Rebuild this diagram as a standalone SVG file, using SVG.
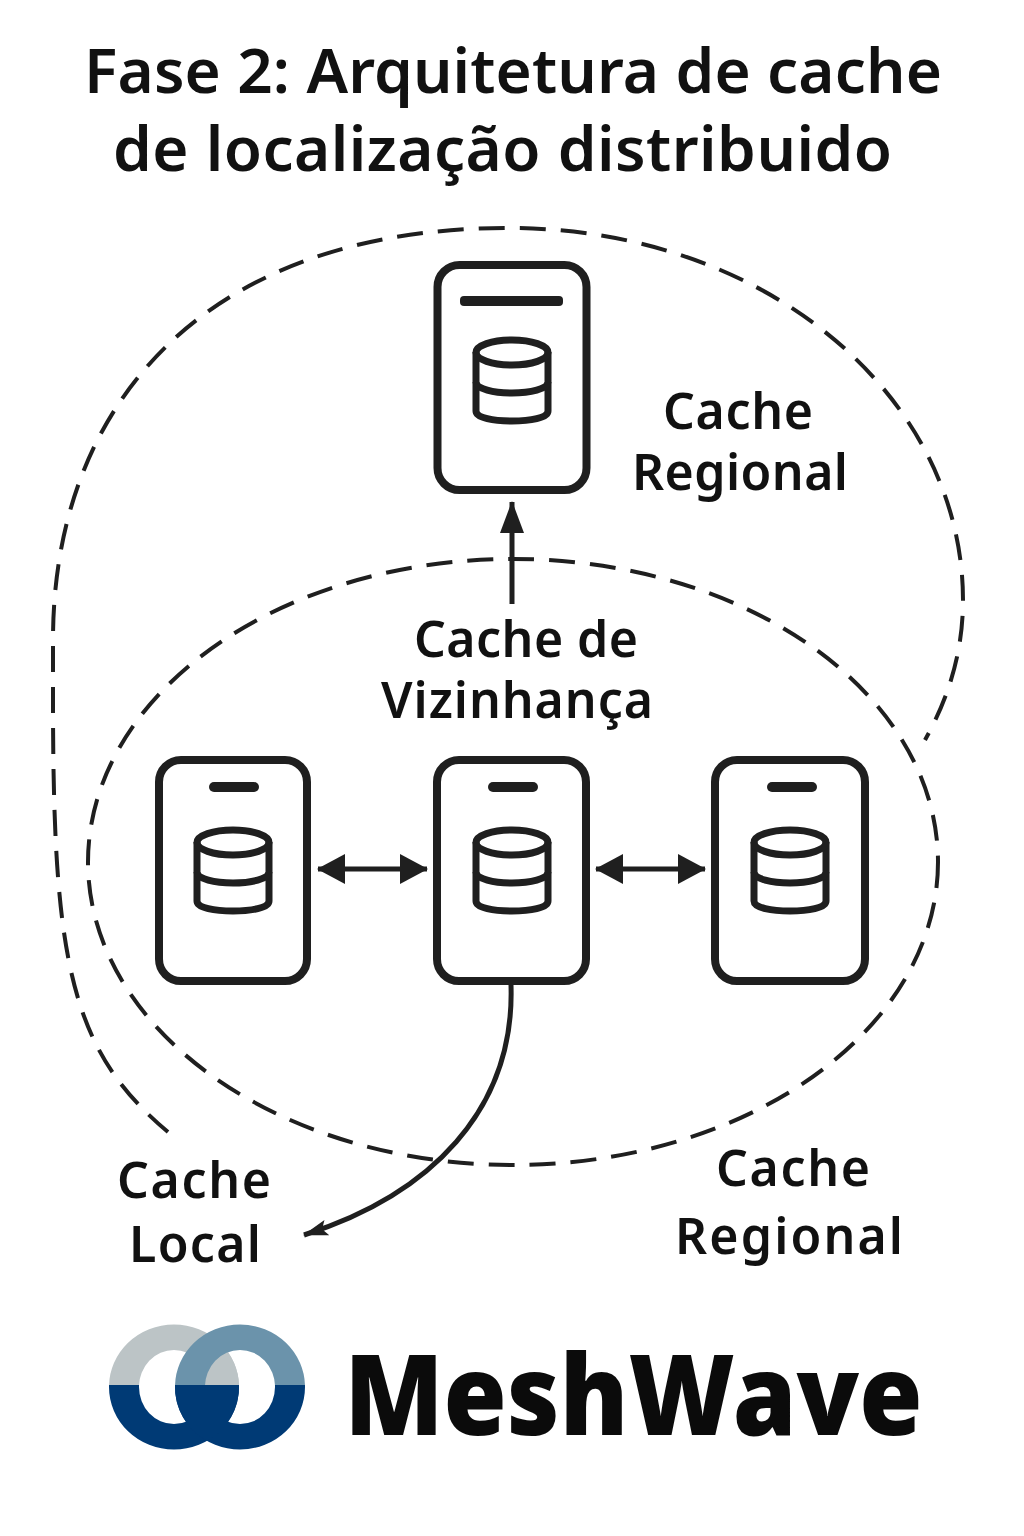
<svg xmlns="http://www.w3.org/2000/svg" width="1024" height="1536" viewBox="0 0 1024 1536">
<style>
text{font-family:"Noto Sans","Open Sans","Liberation Sans",sans-serif;fill:#111;text-anchor:middle}
.t{font-size:62px;font-weight:600}
.l{font-size:50px;font-weight:600}
.b{fill:#fff;stroke:#1f1f1f;stroke-width:8}
.s{fill:none;stroke:#1f1f1f;stroke-width:7}
.d{fill:none;stroke:#1f1f1f;stroke-width:4;stroke-dasharray:26 15}
.c{fill:none;stroke:#1f1f1f;stroke-width:5}
</style>
<defs>
<marker id="a" markerUnits="userSpaceOnUse" markerWidth="30" markerHeight="32" refX="27" refY="16" orient="auto-start-reverse"><path d="M0 1L28 16L0 31Z" fill="#1f1f1f"/></marker>
<marker id="u" markerUnits="userSpaceOnUse" markerWidth="34" markerHeight="26" refX="31" refY="13" orient="auto"><path d="M0 1L32 13L0 25Z" fill="#1f1f1f"/></marker>
<marker id="h" markerUnits="userSpaceOnUse" markerWidth="26" markerHeight="20" refX="24" refY="9" orient="auto"><path d="M0 1L25 9L0 17L5 9Z" fill="#1f1f1f"/></marker>
<clipPath id="top"><rect x="90" y="1300" width="240" height="85"/></clipPath>
<clipPath id="bot"><rect x="90" y="1385" width="240" height="85"/></clipPath>
<clipPath id="lo"><ellipse cx="174" cy="1387" rx="65" ry="62.500"/></clipPath>
<path id="ring" fill-rule="evenodd" d="M-65 0A65 62.500 0 1 0 65 0A65 62.500 0 1 0 -65 0ZM-35 0A35 37 0 1 0 35 0A35 37 0 1 0 -35 0Z"/>
<g id="db"><path class="s" d="M-36 15V74C-36 81-18 84 0 84S36 81 36 74V15"/><ellipse class="s" cx="0" cy="15.500" rx="36" ry="12.500"/><path class="s" d="M-36 45C-36 52-18 56 0 56S36 52 36 45"/></g>
</defs>
<rect width="1024" height="1536" fill="#fff"/>
<g id="title"><text class="t" x="513" y="93" textLength="858">Fase 2: Arquitetura de cache</text><text class="t" x="502.500" y="171" textLength="779">de localização distribuido</text></g>
<g id="connectors">
<path class="d" d="M168 1132C70 1050 53 960 53 700V640C53 400 210 228 508 228C770 228 963 400 963 600C963 650 950 695 925 740"/>
<ellipse class="d" cx="513" cy="862" rx="425" ry="303"/>
<path class="c" d="M512 604V502" marker-end="url(#u)"/>
<path class="c" d="M318 869H427" marker-start="url(#a)" marker-end="url(#a)"/>
<path class="c" d="M596 869H705" marker-start="url(#a)" marker-end="url(#a)"/>
<path class="c" d="M511 985C515 1110 430 1195 304 1235" marker-end="url(#h)"/>
</g>
<g id="node-regional"><rect class="b" x="437.500" y="265" width="149" height="225" rx="22"/><rect x="460" y="296" width="103" height="10" rx="4" fill="#1f1f1f"/><use href="#db" x="512" y="337"/></g>
<g id="node-left"><rect class="b" x="159" y="760" width="148" height="221" rx="22"/><rect x="209" y="782" width="50" height="10" rx="5" fill="#1f1f1f"/><use href="#db" x="233" y="827"/></g>
<g id="node-center"><rect class="b" x="437" y="760" width="149" height="221" rx="22"/><rect x="488" y="782" width="50" height="10" rx="5" fill="#1f1f1f"/><use href="#db" x="512" y="827"/></g>
<g id="node-right"><rect class="b" x="715" y="760" width="150" height="221" rx="22"/><rect x="767" y="782" width="50" height="10" rx="5" fill="#1f1f1f"/><use href="#db" x="790" y="827"/></g>
<g id="labels">
<text class="l" x="738" y="429" textLength="150">Cache</text><text class="l" x="740" y="490" textLength="216">Regional</text>
<text class="l" x="526" y="657" textLength="224">Cache de</text><text class="l" x="517" y="718" textLength="272">Vizinhança</text>
<text class="l" x="194" y="1198" textLength="154">Cache</text><text class="l" x="195" y="1262" textLength="132">Local</text>
<text class="l" x="793" y="1186" textLength="154">Cache</text><text class="l" x="789" y="1254" textLength="228">Regional</text>
</g>
<g id="logo">
<g clip-path="url(#top)"><use href="#ring" x="174" y="1387" fill="#bcc4c6"/><ellipse cx="240" cy="1387" rx="36" ry="37" fill="#bcc4c6" clip-path="url(#lo)"/><use href="#ring" x="240" y="1387" fill="#6b93ab"/></g>
<g clip-path="url(#bot)"><use href="#ring" x="174" y="1387" fill="#003a75"/><use href="#ring" x="240" y="1387" fill="#003a75"/></g>
<path d="M175 1385A65 62.500 0 0 0 207 1441A65 62.500 0 0 0 239 1385Z" fill="#003a75"/>
<text x="633.500" y="1435" textLength="578" lengthAdjust="spacingAndGlyphs" style="font-size:112px;font-weight:900;fill:#0b0b0b">MeshWave</text>
</g>
</svg>
